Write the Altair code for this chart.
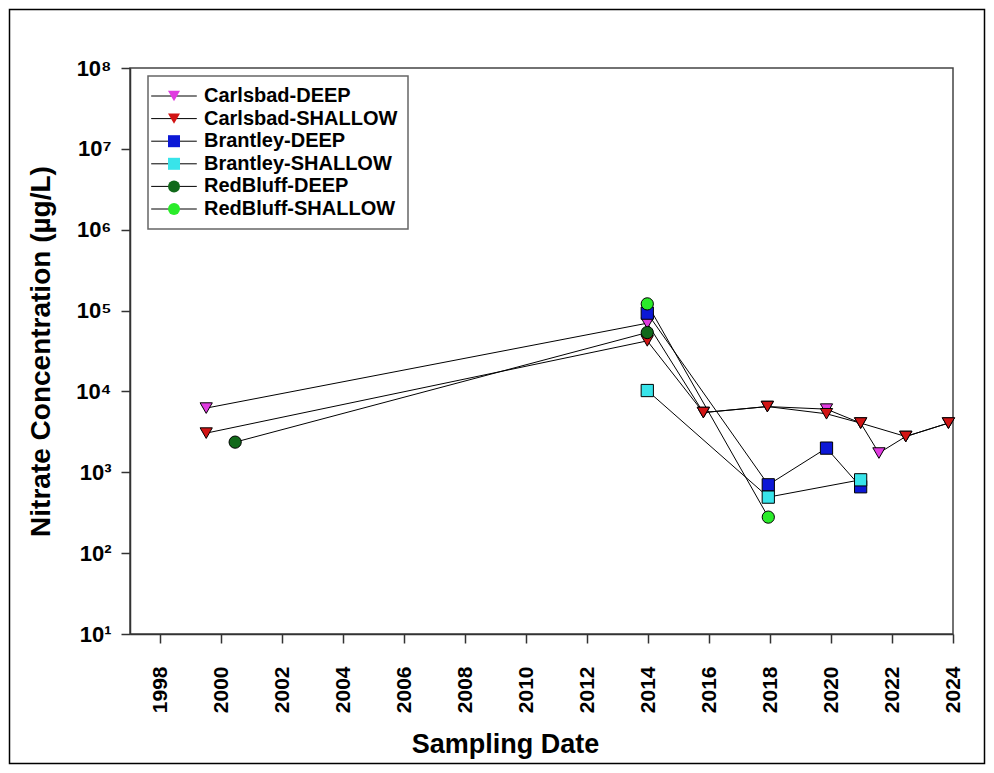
import altair as alt
import pandas as pd

series_names = ["Carlsbad-DEEP", "Carlsbad-SHALLOW", "Brantley-DEEP",
                "Brantley-SHALLOW", "RedBluff-DEEP", "RedBluff-SHALLOW"]
fill_colors = ["#e03ce0", "#d21414", "#0c18d6", "#38e4ea", "#11691a", "#2aec2a"]
point_shapes = ["triangle-down", "triangle-down", "square", "square", "circle", "circle"]

carlsbad_deep_years = [1999.50, 2013.97, 2015.81, 2017.91, 2019.85, 2020.97, 2021.57, 2022.45, 2023.85]
carlsbad_deep_vals = [6220, 69800, 5480, 6500, 6040, 4060, 1730, 2770, 4060]
carlsbad_shallow_years = [1999.50, 2013.97, 2015.81, 2017.91, 2019.85, 2020.97, 2022.45, 2023.85]
carlsbad_shallow_vals = [3050, 42200, 5480, 6500, 5290, 4060, 2770, 4060]
brantley_deep_years = [2013.97, 2017.94, 2019.85, 2020.97]
brantley_deep_vals = [92900, 700, 1990, 662]
brantley_shallow_years = [2013.97, 2017.94, 2020.97]
brantley_shallow_vals = [10260, 493, 807]
redbluff_deep_years = [2000.45, 2013.97]
redbluff_deep_vals = [2360, 53500]
redbluff_shallow_years = [2013.97, 2017.94]
redbluff_shallow_vals = [121000, 279]

x_ticks = list(range(1998, 2025, 2))
y_ticks = [10, 100, 1000, 10000, 100000, 1000000, 10000000, 100000000]

all_years = [carlsbad_deep_years, carlsbad_shallow_years, brantley_deep_years,
             brantley_shallow_years, redbluff_deep_years, redbluff_shallow_years]
all_vals = [carlsbad_deep_vals, carlsbad_shallow_vals, brantley_deep_vals,
            brantley_shallow_vals, redbluff_deep_vals, redbluff_shallow_vals]

rows = []
for name, ys, vs in zip(series_names, all_years, all_vals):
    for y, v in zip(ys, vs):
        rows.append({"series": name, "series_line": name, "year": y, "value": v})
df = pd.DataFrame(rows)

FONT = "Liberation Sans"
LEG_X, LEG_Y = 18, 8
line_path = "M-3.8,0L3.8,0"

x_enc = alt.X("year:Q",
              scale=alt.Scale(domain=[1997, 2024], nice=False, zero=False),
              axis=alt.Axis(values=x_ticks, format="d", labelAngle=-90, labelPadding=23,
                            labelFlush=False, labelOverlap=False, labelFontSize=21,
                            title="Sampling Date", titleFontSize=27,
                            titleX=375, titleY=118, titleAlign="center",
                            titleBaseline="alphabetic"))
y_enc = alt.Y("value:Q",
              scale=alt.Scale(type="log", domain=[10, 100000000], nice=False),
              axis=alt.Axis(values=y_ticks, labelPadding=10, labelFlush=False,
                            labelOverlap=False, labelFontSize=22,
                            labelExpr="'10' + ['⁰','¹','²','³','⁴','⁵','⁶','⁷','⁸'][round(log(datum.value)/LN10)]",
                            title="Nitrate Concentration (µg/L)", titlePadding=20,
                            titleFontSize=28))

# legend drawn under the markers: only the line segments (blank labels keep row heights).
# Its scale domain comes from the data so that it is not merged with the marker legend.
lines = alt.Chart(df).mark_line(strokeWidth=1).encode(
    x=x_enc, y=y_enc, order="year:Q",
    stroke=alt.Stroke("series_line:N",
                      scale=alt.Scale(range=["black"] * len(series_names)),
                      legend=alt.Legend(title=None, orient="none", legendX=LEG_X, legendY=LEG_Y,
                                        symbolType=line_path, symbolStrokeColor="black",
                                        symbolStrokeWidth=1, labelExpr="'\u00a0'",
                                        fillColor="transparent", strokeColor="transparent",
                                        zindex=0)),
)

# legend drawn on top: box, markers and labels
marker_legend = alt.Legend(title=None, orient="none", legendX=LEG_X, legendY=LEG_Y,
                           symbolStrokeColor="black", symbolStrokeWidth=1,
                           fillColor="transparent", strokeColor="#666", zindex=1)
points = alt.Chart(df).mark_point(filled=True, stroke="black", strokeWidth=1, opacity=1,
                                  size=150).encode(
    x=x_enc, y=y_enc,
    fill=alt.Fill("series:N", scale=alt.Scale(domain=series_names, range=fill_colors),
                  legend=marker_legend),
    shape=alt.Shape("series:N", scale=alt.Scale(domain=series_names, range=point_shapes),
                    legend=marker_legend),
)

frame = alt.Chart(alt.Data(values=[{"k": 1}])).mark_rect(
    fillOpacity=0, stroke="black", strokeWidth=1.5).encode(
    x=alt.value(-120.5), x2=alt.value(854.5), y=alt.value(-58.5), y2=alt.value(695.5))

chart = alt.layer(frame, lines, points).properties(
    width=823, height=566,
    padding={"left": 122, "top": 60, "right": 33, "bottom": 131},
    autosize=alt.AutoSizeParams(type="none"),
    background="white",
).configure_view(
    stroke="#444", strokeWidth=1.5
).configure_axis(
    grid=False, domainColor="#333", domainWidth=1.5, tickColor="#333", tickWidth=1.5,
    tickSize=9, labelFont=FONT, labelFontWeight="bold", labelFontSize=19,
    labelColor="black", titleFont=FONT, titleFontWeight="bold", titleColor="black",
).configure_legend(
    strokeWidth=1.5, padding=10,
    symbolSize=144, symbolOffset=6, labelOffset=20, labelFont=FONT,
    labelFontWeight="bold", labelFontSize=20, labelColor="black", labelLimit=400,
    rowPadding=2.6,
)

chart.save("out.html", embed_options={"renderer": "svg", "actions": False})
